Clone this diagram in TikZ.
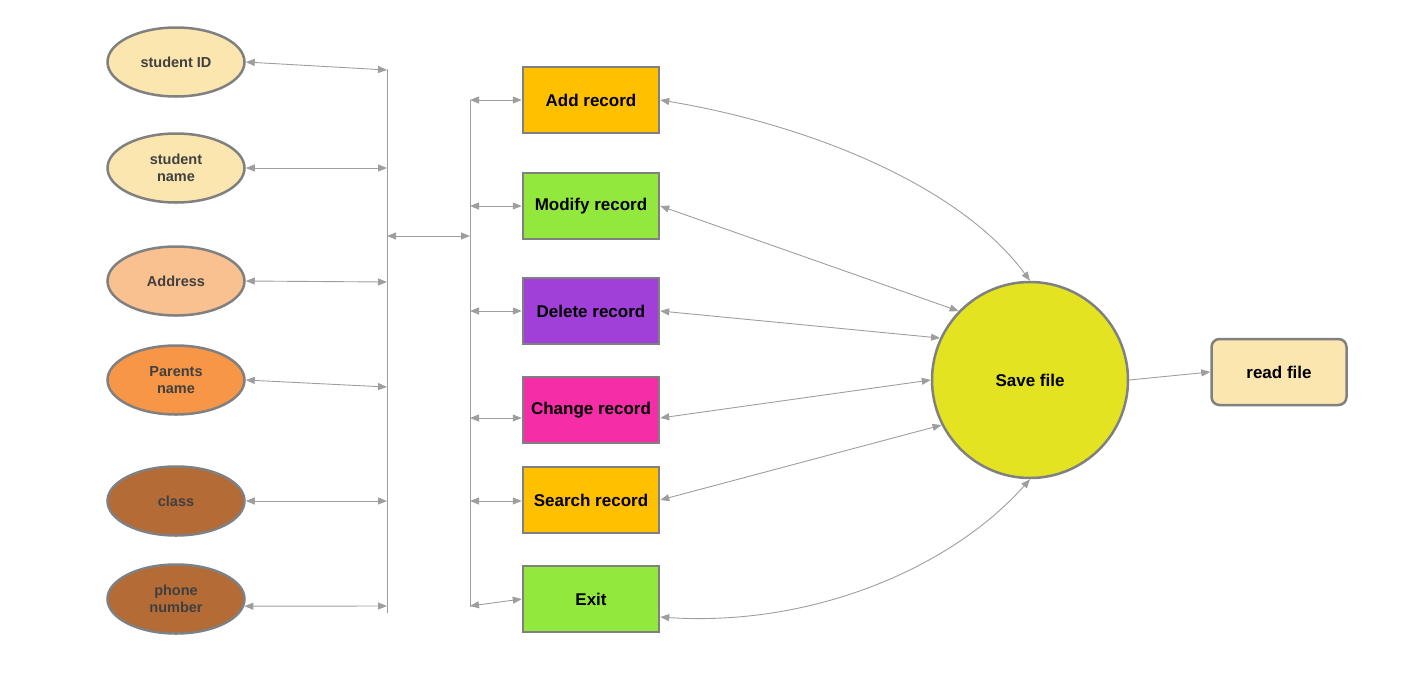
\documentclass[tikz,border=0pt]{standalone}
\usepackage{fontspec}
\setmainfont{Liberation Sans}
\usetikzlibrary{positioning,arrows.meta,shapes.geometric}

\definecolor{linegray}{HTML}{9E9E9E}
\definecolor{bordergray}{HTML}{808080}
\definecolor{attrtext}{HTML}{404040}
\definecolor{lightcream}{HTML}{FCE6B0}
\definecolor{peach}{HTML}{F9C090}
\definecolor{orange}{HTML}{F79646}
\definecolor{brown}{HTML}{B46B35}
\definecolor{amber}{HTML}{FFC000}
\definecolor{lime}{HTML}{92E83C}
\definecolor{violet}{HTML}{A040D8}
\definecolor{pink}{HTML}{F52EA8}
\definecolor{yellowsave}{HTML}{E3E322}

\begin{document}
\begin{tikzpicture}[x=1pt,y=-1pt,
    attribute/.style={ellipse,draw=bordergray,line width=2.5pt,minimum width=137pt,minimum height=69pt,inner sep=0pt,align=center,text=attrtext,font=\bfseries\fontsize{14.5}{16.5}\selectfont},
    action/.style={rectangle,draw=bordergray,line width=2.5pt,minimum width=136pt,minimum height=66pt,inner sep=0pt,font=\bfseries\fontsize{17}{19}\selectfont},
    savenode/.style={circle,draw=bordergray,line width=2.5pt,fill=yellowsave,minimum size=196pt,inner sep=0pt,font=\bfseries\fontsize{17}{19}\selectfont},
    filenode/.style={rectangle,rounded corners=8pt,draw=bordergray,line width=2.5pt,fill=lightcream,minimum width=135pt,minimum height=66pt,font=\bfseries\fontsize{17}{19}\selectfont},
    conn/.style={draw=linegray,line width=0.9pt,{Triangle[length=9pt,width=7pt]}-{Triangle[length=9pt,width=7pt]}},
    oneway/.style={draw=linegray,line width=0.9pt,-{Triangle[length=9pt,width=7pt]}}
    ]
    \useasboundingbox (0,0) rectangle (1419,689);

    % attributes
    \node (sid) [attribute,fill=lightcream] at (176,62) {student ID};
    \node (sname) [attribute,fill=lightcream] at (176,168) {student\\name};
    \node (addr) [attribute,fill=peach] at (176,281) {Address};
    \node (parent) [attribute,fill=orange] at (176,380) {Parents\\name};
    \node (class) [attribute,fill=brown] at (176,501) {class};
    \node (phone) [attribute,fill=brown] at (176,599) {phone\\number};

    % actions
    \node (add) [action,fill=amber] at (591,100) {Add record};
    \node (modify) [action,fill=lime] at (591,206) {Modify record};
    \node (delete) [action,fill=violet] at (591,311) {Delete record};
    \node (change) [action,fill=pink] at (591,410) {Change record};
    \node (search) [action,fill=amber] at (591,500) {Search record};
    \node (exit) [action,fill=lime] at (591,599) {Exit};

    \node (save) [savenode] at (1030,380) {Save file};
    \node (read) [filenode] at (1279,372) {read file};

    % buses
    \coordinate (lbtop) at (387,69);
    \coordinate (lbbot) at (387,613);
    \coordinate (rbtop) at (470,100);
    \coordinate (rbbot) at (470,607);
    \draw[linegray,line width=0.9pt] (lbtop) -- (lbbot);
    \draw[linegray,line width=0.9pt] (rbtop) -- (rbbot);

    \foreach \n/\y in {sid/70,sname/168,addr/282,parent/387,class/501}{
      \coordinate (lb-\n) at (387,\y);
      \draw[conn] (\n.east) -- (lb-\n);
    }
    \coordinate (lb-phone) at (387,606);
    \draw[conn] (phone.-6) -- (lb-phone);

    \coordinate (lbmid) at (387,236);
    \coordinate (rbmid) at (470,236);
    \draw[conn] (lbmid) -- (rbmid);

    \foreach \n/\y in {add/100,modify/206,delete/311,change/418,search/501}{
      \coordinate (rb-\n) at (470,\y);
      \draw[conn] (rb-\n) -- (\n.west |- rb-\n);
    }
    \coordinate (rb-exit) at (470,606);
    \draw[conn] (rb-exit) -- (exit.west);

    % to save file
    \draw[conn] (add.east) .. controls +(150,25) and +(-70,-95) .. (save.north);
    \draw[conn] (modify.east) -- (save.136);
    \draw[conn] (delete.east) -- (save.155);
    \draw[conn] (change.east |- rb-change) -- (save.180);
    \draw[conn] (search.east) -- (save.-153);
    \draw[conn] ([yshift=-18pt]exit.east) .. controls +(150,10) and +(-80,90) .. (save.south);

    \draw[oneway] (save.east) -- (read.west);

  \end{tikzpicture}
\end{document}
